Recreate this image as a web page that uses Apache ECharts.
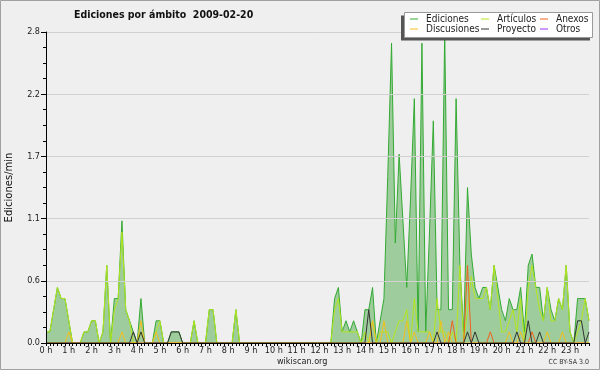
<!DOCTYPE html>
<html><head><meta charset="utf-8">
<script src="https://cdn.jsdelivr.net/npm/echarts@6/dist/echarts.min.js"></script>
<style>html,body{margin:0;padding:0;background:#efefef}#c{width:600px;height:370px}</style>
</head><body><div id="c"></div>
<script>
// Hour tick labels (one every 6 ten-minute slots)
const hourLabels = ['0 h','1 h','2 h','3 h','4 h','5 h','6 h','7 h','8 h','9 h','10 h','11 h',
  '12 h','13 h','14 h','15 h','16 h','17 h','18 h','19 h','20 h','21 h','22 h','23 h'];
const slotsPerHour = 6;
const categories = [];
for (let h = 0; h < 24; h++) for (let m = 0; m < slotsPerHour; m++) categories.push(h + ':' + String(m * 10).padStart(2, '0'));

// Edits per minute, 10-minute bins, one row per hour
const ediciones = [
  0.1,0.1,0.3,0.5,0.4,0.4,  0.2,0,0,0,0.1,0.1,  0.2,0.2,0,0.1,0.7,0,  0.4,0.4,1.1,0.3,0.2,0.1,
  0,0.4,0,0,0,0.2,  0.2,0,0,0.1,0.1,0.1,  0,0,0,0.2,0,0,  0,0.3,0.3,0,0,0,
  0,0,0.3,0,0,0,  0,0,0,0,0,0,  0,0,0,0,0,0,  0,0,0,0,0,0,
  0,0,0,0,0.4,0.5,  0.1,0.2,0.1,0.2,0.1,0,  0.3,0.3,0.5,0,0.2,0.4,  1.5,2.7,0.9,1.7,1.1,0.5,
  1.3,2.2,0.1,2.7,0.1,1.0,  2.0,0.3,0.3,2.8,0.3,0.3,  2.2,0.7,0.1,1.4,0.8,0.5,  0.4,0.5,0.5,0.3,0.7,0.5,
  0.3,0.2,0.4,0.3,0.3,0.5,  0.1,0.7,0.8,0.5,0.5,0.2,  0.5,0.3,0.2,0.4,0.3,0.7,  0.1,0,0.4,0.4,0.4,0.2
];
const articulos = [
  0.1,0.1,0.3,0.5,0.4,0.4,  0.2,0,0,0,0.1,0.1,  0.2,0.2,0,0.1,0.7,0,  0.3,0.4,1.0,0.3,0.2,0,
  0,0.1,0,0,0,0.1,  0.2,0,0,0,0,0,  0,0,0,0.2,0,0,  0,0.3,0.3,0,0,0,
  0,0,0.3,0,0,0,  0,0,0,0,0,0,  0,0,0,0,0,0,  0,0,0,0,0,0,
  0,0,0,0,0.3,0.4,  0.1,0.1,0.1,0.1,0.1,0,  0.1,0,0.2,0,0.1,0.1,  0.1,0,0.1,0.2,0.2,0.3,
  0,0.4,0.1,0.1,0.1,0.1,  0,0.4,0.1,0.1,0,0.1,  0,0.7,0,0.3,0.6,0.4,  0.4,0.4,0.5,0.3,0.7,0.4,
  0.1,0.1,0.2,0.3,0.1,0.4,  0,0.5,0.7,0.5,0.3,0.2,  0.5,0.2,0.2,0.4,0.3,0.7,  0.1,0,0.1,0.2,0.4,0.2
];
const anexos = [
  0,0,0,0,0,0,  0,0,0,0,0,0,  0,0,0,0,0,0,  0,0,0,0,0,0,
  0,0,0,0,0,0,  0,0,0,0,0,0,  0,0,0,0,0,0,  0,0,0,0,0,0,
  0,0,0,0,0,0,  0,0,0,0,0,0,  0,0,0,0,0,0,  0,0,0,0,0,0,
  0,0,0,0,0,0,  0,0,0,0,0,0,  0,0,0,0,0,0,  0,0,0,0,0,0,
  0,0,0,0,0,0,  0,0,0,0,0,0.2,  0,0,0,0.7,0,0,  0,0,0,0.1,0,0,
  0,0,0,0,0,0,  0,0,0.1,0,0,0,  0,0,0,0,0,0,  0,0,0,0,0,0
];
const discusiones = [
  0,0,0,0,0,0,  0.1,0,0,0,0,0,  0,0,0,0,0,0,  0,0,0.1,0,0,0,
  0,0.2,0,0,0,0.1,  0,0,0,0,0,0,  0,0,0,0,0,0,  0,0,0,0,0,0,
  0,0,0,0,0,0,  0,0,0,0,0,0,  0,0,0,0,0,0,  0,0,0,0,0,0,
  0,0,0,0,0,0,  0,0,0,0,0,0,  0,0,0.2,0,0,0.2,  0,0,0,0,0,0.2,
  0,0.1,0,0,0,0.1,  0,0,0.2,0,0.1,0,  0,0,0,0,0,0,  0,0,0,0,0,0,
  0,0,0.1,0,0,0.1,  0,0,0,0,0,0,  0.1,0,0,0,0.1,0,  0,0,0,0,0,0
];
const proyecto = [
  0,0,0,0,0,0,  0,0,0,0,0,0,  0,0,0,0,0,0,  0,0,0,0,0,0.1,
  0,0.1,0,0,0,0,  0,0,0,0.1,0.1,0.1,  0,0,0,0,0,0,  0,0,0,0,0,0,
  0,0,0,0,0,0,  0,0,0,0,0,0,  0,0,0,0,0,0,  0,0,0,0,0,0,
  0,0,0,0,0,0,  0,0,0,0,0,0,  0,0.3,0,0,0,0,  0,0,0,0,0,0,
  0,0,0,0,0,0,  0,0.1,0,0,0,0,  0,0,0,0.1,0,0.1,  0,0,0,0,0,0,
  0,0,0,0,0.1,0,  0,0.2,0,0,0.1,0,  0,0,0,0,0,0,  0,0,0.2,0.2,0,0.1
];
const otros = [
  0,0,0,0,0,0,  0,0,0,0,0,0,  0,0,0,0,0,0,  0,0,0,0,0,0,
  0,0,0,0,0,0,  0,0,0,0,0,0,  0,0,0,0,0,0,  0,0,0,0,0,0,
  0,0,0,0,0,0,  0,0,0,0,0,0,  0,0,0,0,0,0,  0,0,0,0,0,0,
  0,0,0,0,0,0,  0,0,0,0,0,0,  0,0,0,0,0,0,  0,0,0,0,0,0,
  0,0,0,0,0,0,  0,0,0,0,0,0,  0,0,0,0,0,0,  0,0,0,0,0,0,
  0,0,0,0,0,0,  0,0,0,0,0,0,  0,0,0,0,0,0,  0,0,0,0,0,0
];
const yMax = 2.8, yStep = 0.56;
const seriesColors = ['#33aa33','#b4e61e','#f06020','#f0c020','#333333','#9933ff'];

const F = '"DejaVu Sans Condensed","DejaVu Sans",sans-serif';
const chart = echarts.init(document.getElementById('c'), null, {renderer: 'canvas'});

const legendPos = [[410,14],[481,14],[540,14],[410,24],[481,24],[540,24]];
const legendOrder = ['Ediciones','Artículos','Anexos','Discusiones','Proyecto','Otros'];

function lineSeries(name, data, color, extra) {
  return Object.assign({
    name, type: 'line', data, showSymbol: false, symbol: 'none',
    lineStyle: {color, width: 1}, itemStyle: {color}, animation: false
  }, extra || {});
}

chart.setOption({
  backgroundColor: '#efefef',
  animation: false,
  title: {
    text: 'Ediciones por ámbito  2009-02-20', left: 69, top: 5,
    textStyle: {fontFamily: F, fontWeight: 'bold', fontSize: 10.5, color: '#111'}
  },
  grid: {left: 46, right: 11, top: 32, bottom: 27, outerBoundsMode: 'none', containLabel: false},
  legend: legendOrder.map((n, k) => ({
    data: [n], left: legendPos[k][0], top: legendPos[k][1], padding: 0,
    icon: 'rect', itemWidth: 8, itemHeight: 1, itemGap: 0, z: 20,
    textStyle: {fontFamily: F, fontSize: 10, color: '#222', padding: [0,0,0,3]},
    selectedMode: false
  })),
  xAxis: {
    type: 'category', data: categories, boundaryGap: false, z: 10,
    axisLine: {lineStyle: {color: '#000', width: 1}},
    axisTick: {show: true, interval: 0, length: 3, lineStyle: {color: '#000'}},
    axisLabel: {
      interval: (i) => i % slotsPerHour === 0,
      formatter: (v, i) => hourLabels[Math.floor(i / slotsPerHour)],
      fontFamily: F, fontSize: 9, color: '#222', margin: 3
    },
    splitLine: {show: false}
  },
  yAxis: {
    type: 'value', min: 0, max: yMax, interval: yStep, z: 10,
    name: 'Ediciones/min', nameLocation: 'middle', nameGap: 32, nameRotate: 90,
    nameTextStyle: {fontFamily: 'DejaVu Sans, sans-serif', fontSize: 10, color: '#111'},
    axisLine: {show: true, lineStyle: {color: '#000'}},
    axisTick: {show: true, length: 5, lineStyle: {color: '#000'}},
    minorTick: {show: true, splitNumber: 4, length: 3, lineStyle: {color: '#000'}},
    axisLabel: {formatter: (v) => v.toFixed(1), fontFamily: F, fontSize: 9, color: '#222', margin: 6},
    splitLine: {show: true, lineStyle: {color: '#d0d0d0', width: 1}}
  },
  series: [
    lineSeries('Ediciones', ediciones, seriesColors[0], {areaStyle: {color: '#9fcc9c', opacity: 1}}),
    lineSeries('Artículos', articulos, seriesColors[1]),
    lineSeries('Anexos', anexos, seriesColors[2]),
    lineSeries('Discusiones', discusiones, seriesColors[3]),
    lineSeries('Proyecto', proyecto, seriesColors[4]),
    lineSeries('Otros', otros, seriesColors[5], {lineStyle: {color: seriesColors[5], width: 1, opacity: 0}, z: 1})
  ],
  graphic: [
    {type: 'rect', z: 0, silent: true, shape: {x: 0.5, y: 0.5, width: 599, height: 369}, style: {fill: 'none', stroke: '#a0a0a0', lineWidth: 1}},
    {type: 'rect', z: 15, shape: {x: 401, y: 15.5, width: 189, height: 25}, style: {fill: '#555'}},
    {type: 'rect', z: 16, shape: {x: 404.5, y: 12.5, width: 188, height: 25}, style: {fill: '#fff', stroke: '#999', lineWidth: 1}},
    {type: 'text', z: 16, left: 277, top: 357, style: {text: 'wikiscan.org', font: '9px ' + F, fill: '#222'}},
    {type: 'text', z: 16, right: 11, top: 359, style: {text: 'CC BY-SA 3.0', font: '7px ' + F, fill: '#333'}}
  ]
});
</script></body></html>
